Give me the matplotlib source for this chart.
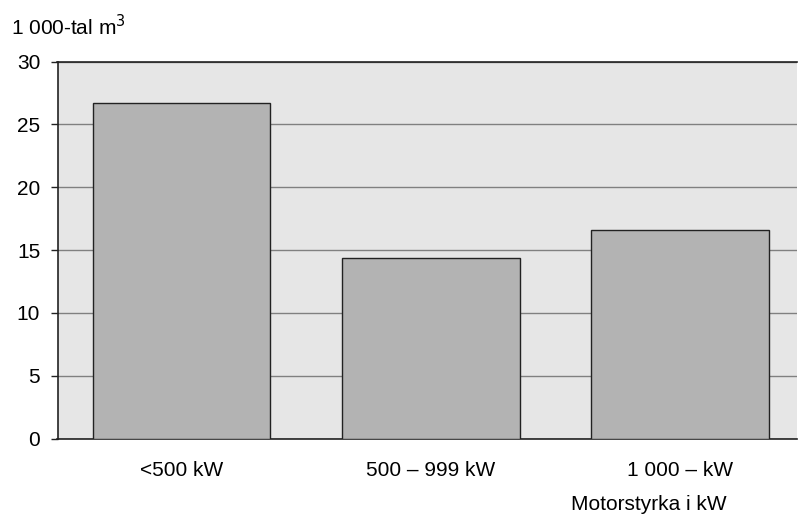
import matplotlib
matplotlib.use("Agg")
import matplotlib.pyplot as plt

categories = ["<500 kW", "500 \u2013 999 kW", "1 000 \u2013 kW"]
values = [26.7, 14.4, 16.6]
yticks = [0, 5, 10, 15, 20, 25, 30]

plt.rcParams['font.family'] = ['Liberation Sans', 'DejaVu Sans']

fig = plt.figure(figsize=(7.98, 5.14), dpi=100)
ax = fig.add_axes([57.5 / 798, 1 - 438.5 / 514, (797 - 57.5) / 798, (438.5 - 61.7) / 514])

ax.set_facecolor("#e6e6e6")
x = range(len(categories))
ax.bar(x, values, width=0.712, color="#b3b3b3", edgecolor="#222222", linewidth=1.0, zorder=3)

ax.set_ylim(0, 30)
ax.set_xlim(-0.497, 2.468)
ax.set_yticks(yticks)
ax.set_yticklabels([str(t) for t in yticks], fontsize=15)
ax.set_xticks(list(x))
ax.set_xticklabels(categories, fontsize=15)
ax.tick_params(axis='x', length=0, pad=16)
ax.tick_params(axis='y', length=5, width=1, pad=7.5, color="#222222")

ax.yaxis.grid(True, color="#808080", linewidth=1, zorder=1)
ax.set_axisbelow(True)

for side in ["left", "bottom", "top"]:
    ax.spines[side].set_color("#222222")
    ax.spines[side].set_linewidth(1.2)
ax.spines["right"].set_visible(False)

fig.text(11 / 798, 1 - 35 / 514, "1 000-tal m$^3$", fontsize=15, va="baseline", ha="left")
fig.text(649 / 798, 1 - 510 / 514, "Motorstyrka i kW", fontsize=15, va="baseline", ha="center")

fig.savefig("out.png", dpi=100)
